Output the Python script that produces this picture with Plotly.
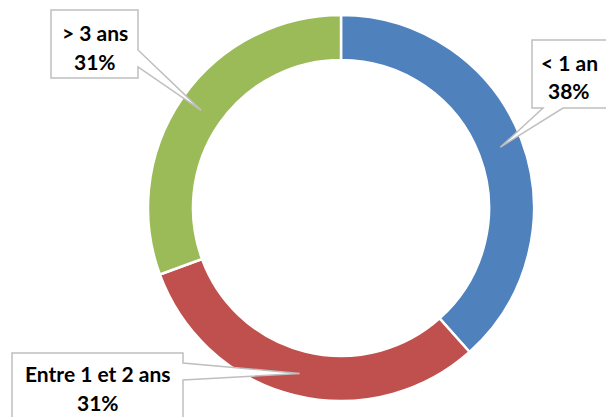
import math
import plotly.graph_objects as go

categories = ["< 1 an", "Entre 1 et 2 ans", "> 3 ans"]
values = [38.4, 31.0, 30.6]
colors = ["#4F81BD", "#C0504D", "#9BBB59"]

W, H = 606, 417
cx, cy = 341, 208
r_out = 193
hole = 0.767
r_mid = r_out * (1 + hole) / 2

fig = go.Figure()
fig.add_trace(go.Pie(
    labels=categories, values=values, sort=False, direction="clockwise", rotation=0,
    hole=hole, textinfo="none", hoverinfo="label+percent",
    marker=dict(colors=colors, line=dict(color="white", width=2.5)),
    domain=dict(x=[(cx - r_out) / W, (cx + r_out) / W],
                y=[(H - cy - r_out) / H, (H - cy + r_out) / H]),
    showlegend=False,
))

total = sum(values)
pcts = [f"{round(v / total * 100)}%" for v in values]

# tips at slice middle, mid ring
tips = []
acc = 0
for v in values:
    a = (acc + v / 2) / total * 2 * math.pi
    tips.append((cx + r_mid * math.sin(a), cy - r_mid * math.cos(a)))
    acc += v

# callout boxes: (x0, y0, x1, y1, side, base0, base1, text center x, line ys)
boxes = [
    (532, 40, 612, 108, "bottom", 543, 563, 569, (62, 90)),
    (12, 353, 183, 425, "right", 363, 380, 98, (373, 402)),
    (51, 10, 138, 78, "right", 50, 67, 95, (32, 61)),
]

shapes = []
annotations = []
for i, (x0, y0, x1, y1, side, b0, b1, tx, lys) in enumerate(boxes):
    tx_, ty_ = tips[i]
    if side == "bottom":
        pts = [(x0, y0), (x1, y0), (x1, y1), (b1, y1), (tx_, ty_), (b0, y1), (x0, y1)]
    else:
        pts = [(x0, y0), (x1, y0), (x1, b0), (tx_, ty_), (x1, b1), (x1, y1), (x0, y1)]
    path = "M " + " L ".join(f"{px:.2f},{py:.2f}" for px, py in pts) + " Z"
    shapes.append(dict(type="path", path=path, xref="x", yref="y",
                       fillcolor="white", line=dict(color="#BFBFBF", width=1.5),
                       layer="above"))
    for txt, ly in zip([categories[i], pcts[i]], lys):
        annotations.append(dict(x=tx, y=ly, xref="x", yref="y", text=f"<b>{txt}</b>",
                                showarrow=False, xanchor="center", yanchor="middle",
                                font=dict(family="Lato", size=21, color="black")))

fig.update_layout(
    width=W, height=H, margin=dict(l=0, r=0, t=0, b=0),
    paper_bgcolor="white", plot_bgcolor="rgba(0,0,0,0)",
    xaxis=dict(range=[0, W], visible=False, fixedrange=True),
    yaxis=dict(range=[H, 0], visible=False, fixedrange=True),
    shapes=shapes, annotations=annotations,
)
fig.write_html("out.html", config={"displayModeBar": False},
               post_script="document.body.style.margin='0';document.body.style.overflow='hidden';")
